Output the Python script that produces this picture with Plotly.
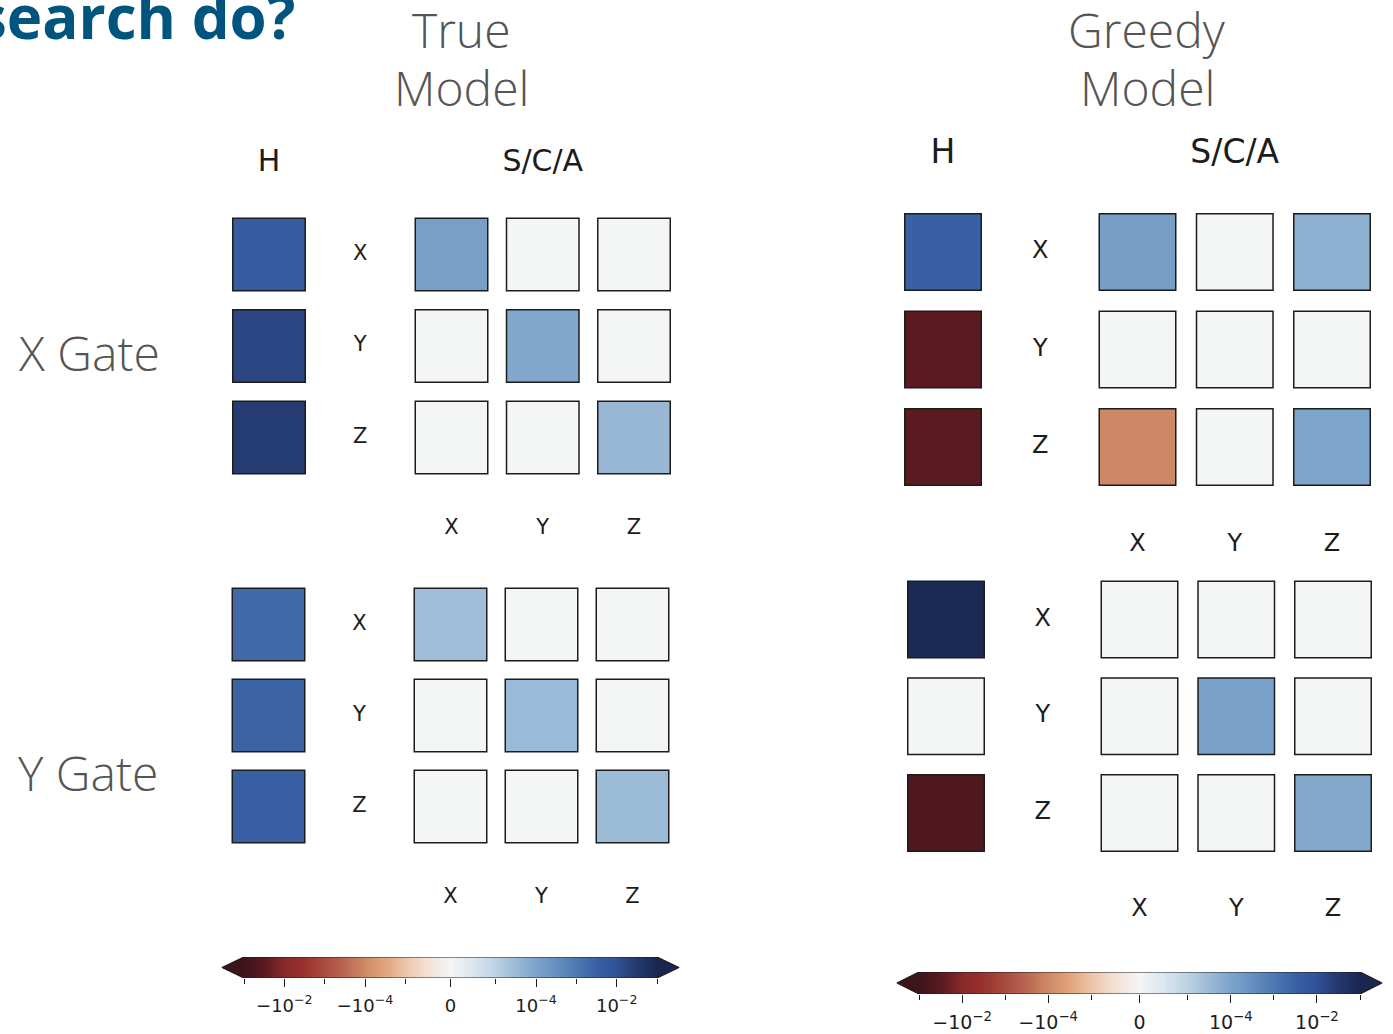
import numpy as np
import plotly.graph_objects as go

W, H = 1393, 1034

PAULI = ["X", "Y", "Z"]

# Hamiltonian (H) weight per Pauli term
true_x_h = [0.0047, 0.017, 0.027]
true_y_h = [0.0021, 0.0028, 0.0036]
greedy_x_h = [0.0033, -0.031, -0.031]
greedy_y_h = [0.083, 0.0, -0.046]

# S/C/A weights: rows X,Y,Z by columns X,Y,Z
true_x_sca = [[1.35e-4, 0, 0], [0, 8.4e-5, 0], [0, 0, 3.7e-5]]
true_y_sca = [[2.6e-5, 0, 0], [0, 3.3e-5, 0], [0, 0, 3.1e-5]]
greedy_x_sca = [[1.44e-4, 0, 5.2e-5], [0, 0, 0], [-1.07e-4, 0, 9.4e-5]]
greedy_y_sca = [[0, 0, 0], [0, 1.22e-4, 0], [0, 0, 7.7e-5]]

# colorbar ticks
cbar_major = [-1e-2, -1e-4, 0, 1e-4, 1e-2]
cbar_major_text = ["\u221210<sup>\u22122</sup>", "\u221210<sup>\u22124</sup>", "0",
                   "10<sup>\u22124</sup>", "10<sup>\u22122</sup>"]
cbar_minor = [-1e-1, -1e-3, -1e-5, 1e-5, 1e-3, 1e-1]

LINTHRESH = 1e-5
LINSCALE = 1.12
VMAX = 0.1


def symlog(v):
    v = np.asarray(v, float)
    a = np.abs(v)
    lin = LINSCALE * a / LINTHRESH
    lg = LINSCALE + np.log10(np.maximum(a, LINTHRESH) / LINTHRESH)
    return np.sign(v) * np.where(a <= LINTHRESH, lin, lg)


TMAX = float(symlog(VMAX))

COLORSCALE = [
    [0.00, "#3c141a"], [0.05, "#5a1a20"], [0.10, "#8a292b"], [0.135, "#962d2c"],
    [0.19, "#a6493c"], [0.245, "#b96752"], [0.29, "#cd8865"], [0.34, "#e0a27c"],
    [0.385, "#ebc1a3"], [0.44, "#f3dfd2"], [0.50, "#f4f5f5"], [0.55, "#dde7f0"],
    [0.61, "#bcd2e4"], [0.655, "#9dbcd8"], [0.705, "#7ea5cb"], [0.755, "#6690c0"],
    [0.805, "#4d78b2"], [0.85, "#3a62a6"], [0.90, "#315298"], [0.95, "#24396e"],
    [1.00, "#192650"],
]

TITLE_FONT = dict(family="Open Sans", size=48, color="#555555", weight=300)
MPL_FONT = "DejaVu Sans"
INK = "#1c1c1c"

# panel layout: grid origin (px), pitch (px), cell size, font sizes
panels = [
    dict(h=true_x_h, sca=true_x_sca, c0=269, cp=91.25, r0=254.5, rp=91.5,
         cell=72.5, lab=21, head=30, headers=True),
    dict(h=true_y_h, sca=true_y_sca, c0=268.5, cp=91.0, r0=624.5, rp=91.0,
         cell=72.5, lab=21, head=30, headers=False),
    dict(h=greedy_x_h, sca=greedy_x_sca, c0=943, cp=97.25, r0=252, rp=97.5,
         cell=76.5, lab=24, head=33, headers=True),
    dict(h=greedy_y_h, sca=greedy_y_sca, c0=946, cp=96.75, r0=619.5, rp=96.75,
         cell=76.5, lab=24, head=33, headers=False),
]

fig = go.Figure()
layout_axes = {}

for i, p in enumerate(panels, start=1):
    xa = "x" if i == 1 else f"x{i}"
    ya = "y" if i == 1 else f"y{i}"
    x0 = p["c0"] - 0.5 * p["cp"]
    x1 = p["c0"] + 4.5 * p["cp"]
    yt = p["r0"] - 1.5 * p["rp"]
    yb = p["r0"] + 3.5 * p["rp"]
    layout_axes[f"xaxis{i}"] = dict(domain=[x0 / W, x1 / W], range=[-0.5, 4.5],
                                   visible=False, fixedrange=True)
    layout_axes[f"yaxis{i}"] = dict(domain=[1 - yb / H, 1 - yt / H], range=[3.5, -1.5],
                                   visible=False, fixedrange=True)

    xs, ys, vals = [], [], []
    for r in range(3):
        xs.append(0)
        ys.append(r)
        vals.append(p["h"][r])
    for r in range(3):
        for c in range(3):
            xs.append(2 + c)
            ys.append(r)
            vals.append(p["sca"][r][c])
    fig.add_trace(go.Scatter(
        x=xs, y=ys, mode="markers", xaxis=xa, yaxis=ya, hoverinfo="skip",
        showlegend=False,
        marker=dict(symbol="square", size=p["cell"], color=symlog(vals),
                    colorscale=COLORSCALE, cmin=-TMAX, cmax=TMAX,
                    line=dict(color=INK, width=1.5)),
    ))

    # row labels and column labels
    fig.add_trace(go.Scatter(
        x=[1, 1, 1, 2, 3, 4], y=[0, 1, 2, 3, 3, 3], text=PAULI + PAULI,
        mode="text", xaxis=xa, yaxis=ya, hoverinfo="skip", showlegend=False,
        textfont=dict(family=MPL_FONT, size=p["lab"], color=INK),
    ))
    if p["headers"]:
        fig.add_trace(go.Scatter(
            x=[0, 3], y=[-1, -1], text=["H", "S/C/A"], mode="text",
            xaxis=xa, yaxis=ya, hoverinfo="skip", showlegend=False,
            textfont=dict(family=MPL_FONT, size=p["head"], color=INK),
        ))

# colorbars (symlog scale, extended ends)
cbars = [
    dict(x0=244, x1=657, yt=957, yb=978, ext=22, font=18),
    dict(x0=919, x1=1360, yt=972, yb=994, ext=22, font=19),
]
edges = np.linspace(-TMAX, TMAX, 401)
centers = 0.5 * (edges[:-1] + edges[1:])
for j, cb in enumerate(cbars, start=5):
    xa, ya = f"x{j}", f"y{j}"
    per_px = 2 * TMAX / (cb["x1"] - cb["x0"])
    ext = cb["ext"] * per_px
    pad = ext + 3 * per_px
    dx0 = cb["x0"] - cb["ext"] - 3
    dx1 = cb["x1"] + cb["ext"] + 3
    layout_axes[f"xaxis{j}"] = dict(
        domain=[dx0 / W, dx1 / W], range=[-TMAX - pad, TMAX + pad], anchor=ya,
        showgrid=False, zeroline=False, showline=False, fixedrange=True,
        tickmode="array", tickvals=list(symlog(cbar_major)), ticktext=cbar_major_text,
        ticks="outside", ticklen=8, tickwidth=1, tickcolor=INK, ticklabelstandoff=3,
        tickfont=dict(family=MPL_FONT, size=cb["font"], color=INK),
        minor=dict(tickmode="array", tickvals=list(symlog(cbar_minor)),
                   ticks="outside", ticklen=5, tickwidth=1, tickcolor=INK),
    )
    layout_axes[f"yaxis{j}"] = dict(domain=[1 - cb["yb"] / H, 1 - cb["yt"] / H],
                                   range=[0, 1], visible=False, fixedrange=True,
                                   anchor=xa)
    fig.add_trace(go.Heatmap(
        x=edges, y=[0, 1], z=[centers], colorscale=COLORSCALE, zmin=-TMAX, zmax=TMAX,
        showscale=False, hoverinfo="skip", xaxis=xa, yaxis=ya,
    ))
    for side, col in ((-1, COLORSCALE[0][1]), (1, COLORSCALE[-1][1])):
        fig.add_trace(go.Scatter(
            x=[side * TMAX, side * (TMAX + ext), side * TMAX, side * TMAX],
            y=[0, 0.5, 1, 0], mode="lines", fill="toself", fillcolor=col,
            line=dict(width=0), hoverinfo="skip", showlegend=False,
            xaxis=xa, yaxis=ya,
        ))
    fig.add_trace(go.Scatter(
        x=[-TMAX, TMAX, TMAX + ext, TMAX, -TMAX, -TMAX - ext, -TMAX],
        y=[0, 0, 0.5, 1, 1, 0.5, 0], mode="lines",
        line=dict(color=INK, width=1.2), hoverinfo="skip", showlegend=False,
        xaxis=xa, yaxis=ya,
    ))


def ann(text, px, py, font, xanchor="center"):
    return dict(text=text, x=px / W, y=1 - py / H, xref="paper", yref="paper",
                xanchor=xanchor, yanchor="middle", showarrow=False, font=font)


annotations = [
    ann("search do?", 297, 16,
        dict(family="Open Sans", size=60, color="#00557f", weight=700), "right"),
    ann("True", 461, 30, TITLE_FONT),
    ann("Model", 461, 87, TITLE_FONT),
    ann("Greedy", 1147, 30, TITLE_FONT),
    ann("Model", 1147, 87, TITLE_FONT),
    ann("X Gate", 16, 352, TITLE_FONT, "left"),
    ann("Y Gate", 16, 772, TITLE_FONT, "left"),
]

fig.update_layout(
    width=W, height=H, margin=dict(l=0, r=0, t=0, b=0),
    paper_bgcolor="white", plot_bgcolor="rgba(0,0,0,0)",
    showlegend=False, annotations=annotations, **layout_axes,
)

fig.write_html("out.html")
